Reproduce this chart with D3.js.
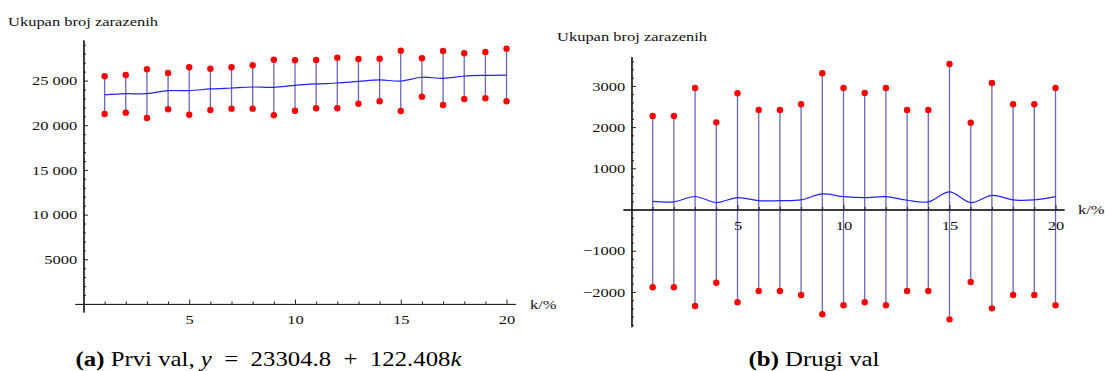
<!DOCTYPE html>
<html>
<head>
<meta charset="utf-8">
<script src="https://cdn.jsdelivr.net/npm/d3@7"></script>
<style>
  body { margin: 0; background: #fff; }
  svg { display: block; font-family: "Liberation Serif", "Times New Roman", serif; }
</style>
</head>
<body>
<svg id="chart" width="1105" height="371"></svg>
<script>
// values
let kVals = [1,2,3,4,5,6,7,8,9,10,11,12,13,14,15,16,17,18,19,20]

let leftTop    = [25480,25620,26260,25850,26490,26330,26490,26710,27340,27270,27300,27560,27420,27450,28350,27490,28310,28050,28200,28570]
let leftBottom = [21260,21410,20810,21790,21180,21710,21860,21860,21130,21630,21900,21900,22410,22680,21600,23200,22270,22940,23020,22680]
let leftMid    = [23390,23530,23530,23870,23870,24060,24170,24280,24240,24470,24620,24730,24910,25070,24950,25370,25250,25510,25590,25620]

let rightTop    = [2269,2269,2949,2116,2820,2415,2415,2553,3306,2949,2828,2949,2415,2415,3532,2107,3070,2553,2553,2949]
let rightBottom = [-1888,-1888,-2342,-1777,-2253,-1978,-1978,-2075,-2544,-2326,-2253,-2326,-1978,-1978,-2666,-1760,-2399,-2075,-2075,-2326]
let rightMid    = [195,185,315,168,290,214,214,233,378,311,287,311,225,185,428,168,342,233,233,311]

let xMajor = [5,10,15,20]
let xLabels = ["5","10","15","20"]
let leftYMajor = [5000,10000,15000,20000,25000]
let leftYLabels = ["5000","10 000","15 000","20 000","25 000"]
let rightYMajor = [-2000,-1000,1000,2000,3000]
let rightYLabels = ["\u22122000","\u22121000","1000","2000","3000"]

let yTitle = "Ukupan broj zarazenih"
let xTitle = "k/%"

let svg = d3.select('#chart')
let stretch = 'scale(1.24,1)'

let drawPanel = (cfg) => {
  let x = d3.scaleLinear().domain([-0.4, 20.4]).range(cfg.xRange)
  let y = d3.scaleLinear().domain(cfg.yDomain).range(cfg.yRange)
  let g = svg.append('g')

  let rows = kVals.map((k, i) => ({k: k, top: cfg.top[i], bot: cfg.bottom[i], mid: cfg.mid[i]}))

  // error bars
  g.selectAll('line.bar')
    .data(rows)
    .join('line')
    .attr('class', 'bar')
    .attr('x1', d => x(d.k)).attr('x2', d => x(d.k))
    .attr('y1', d => y(d.bot)).attr('y2', d => y(d.top))
    .attr('stroke', '#4e4eae')
    .attr('stroke-width', 1.3)
    .attr('stroke-opacity', 0.85)

  // axes
  let x0 = x(0), y0 = y(0)
  let minorX = d3.range(1, 21).filter(v => v % 5 != 0)

  let xa = g.append('g').attr('transform', 'translate(0,' + y0 + ')')
  xa.append('g').call(d3.axisTop(x).tickValues(minorX).tickSize(2.5).tickFormat('').tickSizeOuter(0))
  xa.append('g').call(d3.axisTop(x).tickValues(xMajor).tickSize(4.5).tickFormat('').tickSizeOuter(0))
  xa.append('g').call(d3.axisBottom(x).tickValues(xMajor).tickSize(0).tickPadding(11)
      .tickFormat((d, i) => xLabels[i]))
  xa.selectAll('.domain').attr('stroke', '#222')
  xa.selectAll('.tick line').attr('stroke', '#222')

  let ya = g.append('g').attr('transform', 'translate(' + x0 + ',0)')
  ya.append('g').call(d3.axisRight(y).tickValues(cfg.yMinor).tickSize(2.5).tickFormat('').tickSizeOuter(0))
  ya.append('g').call(d3.axisRight(y).tickValues(cfg.yMajor).tickSize(4.5).tickFormat('').tickSizeOuter(0))
  ya.append('g').call(d3.axisLeft(y).tickValues(cfg.yMajor).tickSize(0).tickPadding(5)
      .tickFormat((d, i) => cfg.yLabels[i]))
  ya.selectAll('.domain').attr('stroke', '#222')
  ya.selectAll('.tick line').attr('stroke', '#222')

  g.selectAll('.tick text')
    .attr('font-family', '"Liberation Serif", serif')
    .attr('font-size', 13.3)
    .attr('fill', '#111')
    .attr('transform', stretch)

  // interpolated line
  let line = d3.line()
    .x(d => x(d.k)).y(d => y(d.mid))
    .curve(d3.curveCatmullRom.alpha(0))
  g.append('path')
    .datum(rows)
    .attr('d', line)
    .attr('fill', 'none')
    .attr('stroke', '#2222ff')
    .attr('stroke-width', 1.2)

  // dots
  let pts = rows.flatMap(d => [{k: d.k, v: d.top}, {k: d.k, v: d.bot}])
  g.selectAll('circle')
    .data(pts)
    .join('circle')
    .attr('cx', d => x(d.k)).attr('cy', d => y(d.v))
    .attr('r', 3.2)
    .attr('fill', '#ff0000')

  // titles
  g.append('g').attr('transform', 'translate(' + cfg.titlePos + ') ' + stretch)
    .append('text').text(yTitle)
    .attr('font-size', 13.3).attr('fill', '#111')
  g.append('g').attr('transform', 'translate(' + cfg.kPos + ') ' + stretch)
    .append('text').text(xTitle)
    .attr('font-size', 13.3).attr('fill', '#111')
}

drawPanel({
  xRange: [75, 515], yDomain: [-900, 29540], yRange: [312, 40],
  top: leftTop, bottom: leftBottom, mid: leftMid,
  yMajor: leftYMajor, yLabels: leftYLabels,
  yMinor: d3.range(1000, 29001, 1000).filter(v => v % 5000 != 0),
  titlePos: [8, 26], kPos: [530, 309]
})

drawPanel({
  xRange: [623, 1064], yDomain: [-2845, 3709], yRange: [326.7, 56.7],
  top: rightTop, bottom: rightBottom, mid: rightMid,
  yMajor: rightYMajor, yLabels: rightYLabels,
  yMinor: d3.range(-2800, 3601, 200).filter(v => v % 1000 != 0),
  titlePos: [557, 41], kPos: [1078, 214]
})

// captions
let capA = svg.append('g').attr('transform', 'translate(268.5,366) ' + stretch)
  .append('text').attr('text-anchor', 'middle').attr('font-size', 20).attr('fill', '#000')
capA.append('tspan').attr('font-weight', 'bold').text('(a)')
capA.append('tspan').text(' Prvi val, ')
capA.append('tspan').attr('font-style', 'italic').text('y')
capA.append('tspan').text('\u2002=\u200223304.8\u2002+\u2002122.408')
capA.append('tspan').attr('font-style', 'italic').text('k')

let capB = svg.append('g').attr('transform', 'translate(814,366) ' + stretch)
  .append('text').attr('text-anchor', 'middle').attr('font-size', 20).attr('fill', '#000')
capB.append('tspan').attr('font-weight', 'bold').text('(b)')
capB.append('tspan').text(' Drugi val')
</script>
</body>
</html>
